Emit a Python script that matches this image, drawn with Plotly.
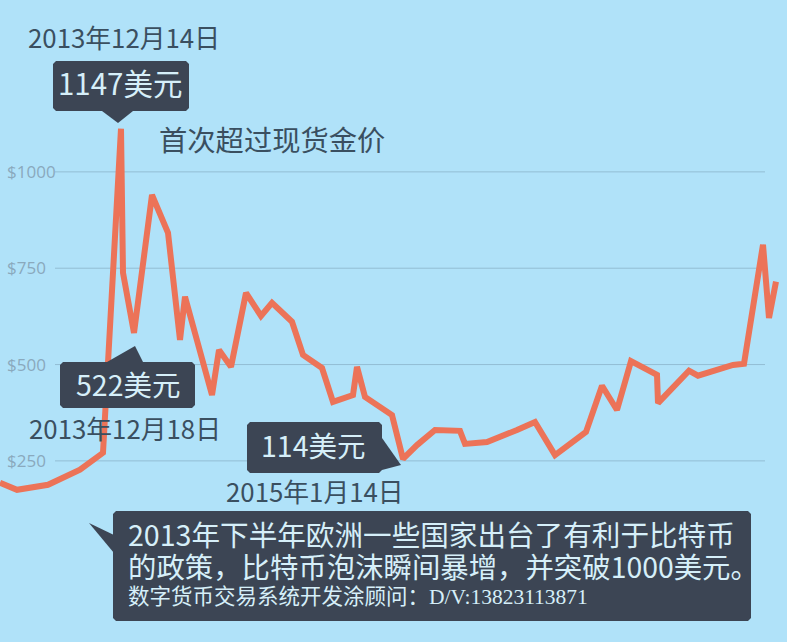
import plotly.graph_objects as go

W, H = 787, 642
# Horizontal position along the (unlabelled) time axis, and price in USD
time_pos = [0, 17, 48, 80, 103, 108, 115, 121, 123, 134, 152, 168, 180, 185, 212, 219, 231, 246, 261, 272,
            292, 303, 322, 333, 353, 357, 365, 392, 403, 417, 435, 460, 465, 487, 517, 535, 555, 586, 602,
            617, 631, 657, 658, 689, 698, 733, 744, 753, 763, 769, 776]
price = [193, 175, 188, 227, 271, 512, 842, 1112, 738, 582, 940, 842, 564, 676, 421, 538, 494, 686, 626, 660,
         611, 525, 491, 403, 421, 494, 416, 369, 255, 291, 330, 328, 294, 299, 330, 351, 265, 325, 445,
         382, 509, 473, 400, 484, 471, 499, 502, 650, 811, 621, 715]
tick_values = [250, 500, 750, 1000]
tick_labels = ["$250", "$500", "$750", "$1000"]

BG = "#b0e2f9"
LINE = "#ec7358"
DARK = "#3c4554"
LIGHT = "#d6eff9"
INK = "#3a4f60"
CJK = "Noto Sans CJK SC"


def px(x):
    return x / W


def py(y):
    return 1 - y / H


def path(points):
    """Closed paper-space path through pixel points."""
    return "M " + " L ".join(f"{px(x):.5f} {py(y):.5f}" for x, y in points) + " Z"


def callout(x0, y0, x1, y1, pointer):
    r = 3
    pts = [(x0 + r, y0), (x1 - r, y0), (x1, y0 + r), (x1, y1 - r), (x1 - r, y1), (x0 + r, y1), (x0, y1 - r), (x0, y0 + r)]
    return [
        dict(type="path", xref="paper", yref="paper", path=path(pts), fillcolor=DARK, line_width=0, layer="above"),
        dict(type="path", xref="paper", yref="paper", path=path(pointer), fillcolor=DARK, line_width=0, layer="above"),
    ]


def label(text, x, y, size, color=INK, anchor="center", family=CJK):
    return dict(text=text, x=px(x), y=py(y), xref="paper", yref="paper", showarrow=False, xanchor=anchor,
                yanchor="middle", font=dict(family=family, size=size, color=color))


fig = go.Figure(go.Scatter(x=time_pos, y=price, mode="lines", hoverinfo="skip",
                           line=dict(color=LINE, width=6, shape="linear")))

shapes = [dict(type="line", xref="paper", yref="y", x0=px(55), x1=px(765), y0=v, y1=v,
               line=dict(color="#93bdd4", width=1), layer="below") for v in tick_values]
shapes += callout(53, 61, 189, 111, [(102, 111), (133, 111), (118, 123)])
shapes += callout(60, 362, 195, 408, [(107, 362), (135, 346), (143, 362)])
shapes += callout(247, 422, 382, 473, [(382, 438), (401, 465), (382, 470)])
shapes += callout(113, 511, 751, 621, [(89, 523), (114, 535), (114, 553)])

annotations = [
    label("2013年12月14日", 124, 36, 25.8),
    label("1147美元", 121, 82, 29.5, LIGHT),
    label("首次超过现货金价", 272, 139, 28.3),
    label("522美元", 128, 383, 28.5, LIGHT),
    label("2013年12月18日", 125, 427, 25.8),
    label("114美元", 313, 444, 28.5, LIGHT),
    label("2015年1月14日", 315, 490, 25.8),
    label("2013年下半年欧洲一些国家出台了有利于比特币", 126, 533, 28.6, LIGHT, "left"),
    label("的政策，比特币泡沫瞬间暴增，并突破1000美元。", 126, 565, 28.4, LIGHT, "left"),
    label("数字货币交易系统开发涂顾问：D/V:13823113871", 126, 597, 21.5, LIGHT, "left",
          "Liberation Serif, Noto Sans CJK SC"),
]

fig.update_layout(
    width=W, height=H, margin=dict(l=0, r=0, t=0, b=0), showlegend=False,
    paper_bgcolor=BG, plot_bgcolor=BG, shapes=shapes, annotations=annotations,
    xaxis=dict(range=[0, W], visible=False, fixedrange=True),
    yaxis=dict(range=[-220, 1446], tickmode="array", tickvals=tick_values, ticktext=tick_labels,
               ticklabelposition="inside", ticks="", showgrid=False, zeroline=False, showline=False,
               ticklabelstandoff=4, tickfont=dict(family="Open Sans", size=17, color="#8aa9bd"), fixedrange=True),
)
fig.write_html("out.html", config=dict(displayModeBar=False),
               post_script="document.body.style.margin='0';document.body.style.background='#b0e2f9';")
